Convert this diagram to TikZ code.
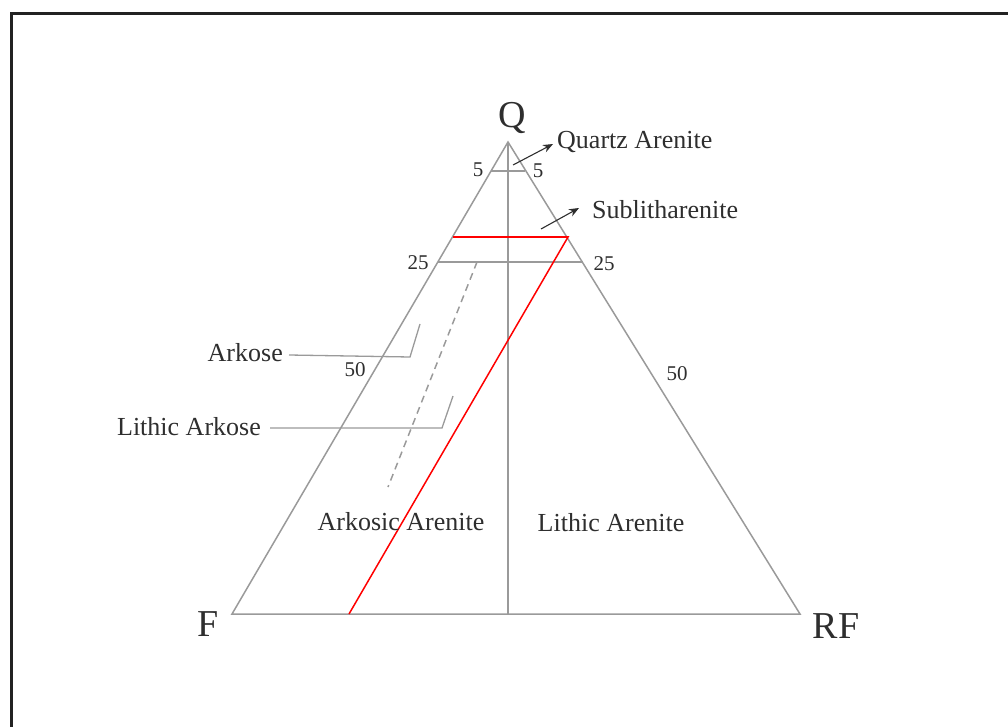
\documentclass[tikz,border=0pt]{standalone}
\usepackage{fontspec}
\setmainfont{Liberation Serif}
\usetikzlibrary{arrows.meta}
\definecolor{gline}{HTML}{9A9A9A}
\definecolor{txt}{HTML}{2E2E2E}
\definecolor{frame}{HTML}{222222}
\begin{document}
\begin{tikzpicture}[x=1pt,y=-1pt,
  gl/.style={draw=gline,line width=1.5pt},
  rl/.style={draw=red,line width=1.5pt},
  lab/.style={inner sep=0pt,text=txt,font=\fontsize{26}{30}\selectfont},
  num/.style={inner sep=0pt,text=txt,font=\fontsize{21}{25}\selectfont},
  vert/.style={inner sep=0pt,text=txt,font=\fontsize{38}{44}\selectfont},
  arr/.style={draw=txt,line width=1.1pt,-{Stealth[length=10pt,width=8pt]}}]
\useasboundingbox (0,0) rectangle (1008,727);
\draw[frame,line width=3pt] (11,14) rectangle (1030,750);
% corners
\coordinate (Qc) at (508,142);
\coordinate (Fc) at (232,614);
\coordinate (Rc) at (800,614);
\coordinate (Bm) at (508,614);
% triangle
\draw[gl,line join=miter] (Qc) -- (Fc) -- (Rc) -- cycle;
\draw[gl] (Qc) -- (Bm);
% 5% and 25% lines
\coordinate (f5l) at (491,171);
\coordinate (f5r) at (525,171);
\draw[gl] (f5l) -- (f5r);
\coordinate (f25l) at (438,262);
\coordinate (f25r) at (583,262);
\draw[gl] (f25l) -- (f25r);
% dashed line
\coordinate (d1) at (477,262);
\coordinate (d2) at (388,487);
\draw[gl,dash pattern=on 7pt off 5pt] (d1) -- (d2);
% red lines
\coordinate (r1) at (453,237);
\coordinate (r2) at (568,237);
\coordinate (r3) at (349,614);
\draw[rl,line join=miter] (r1) -- (r2) -- (r3);
% labels
\node[vert] (Q) at (512,118) {Q};
\node[vert] (F) at (208,624) {F};
\node[vert] (RF) at (836,626) {RF};
\node[lab,anchor=west] (qa) at (557,142) {Quartz Arenite};
\node[lab,anchor=west] (sl) at (592,210) {Sublitharenite};
\node[num] (n5l) at (478,170) {5};
\node[num] (n5r) at (538,171) {5};
\node[num] (n25l) at (418,263) {25};
\node[num] (n25r) at (604,264) {25};
\node[num] (n50l) at (355,370) {50};
\node[num] (n50r) at (677,374) {50};
\node[lab,anchor=east] (ark) at (283,353) {Arkose};
\node[lab,anchor=east] (lark) at (261,427) {Lithic Arkose};
\node[lab] (aa) at (401,522) {Arkosic Arenite};
\node[lab] (la) at (611,523) {Lithic Arenite};
% arrows
\coordinate (qa1) at (513,165);
\coordinate (qa2) at (553,144);
\draw[arr] (qa1) -- (qa2);
\coordinate (sl1) at (541,229);
\coordinate (sl2) at (579,208);
\draw[arr] (sl1) -- (sl2);
% leaders
\coordinate (ak1) at (289,355);
\coordinate (ak2) at (410,357);
\coordinate (ak3) at (420,324);
\draw[gl,line width=1.3pt] (ak1) -- (ak2) -- (ak3);
\coordinate (lk1) at (270,428);
\coordinate (lk2) at (442,428);
\coordinate (lk3) at (453,396);
\draw[gl,line width=1.3pt] (lk1) -- (lk2) -- (lk3);
\end{tikzpicture}
\end{document}
